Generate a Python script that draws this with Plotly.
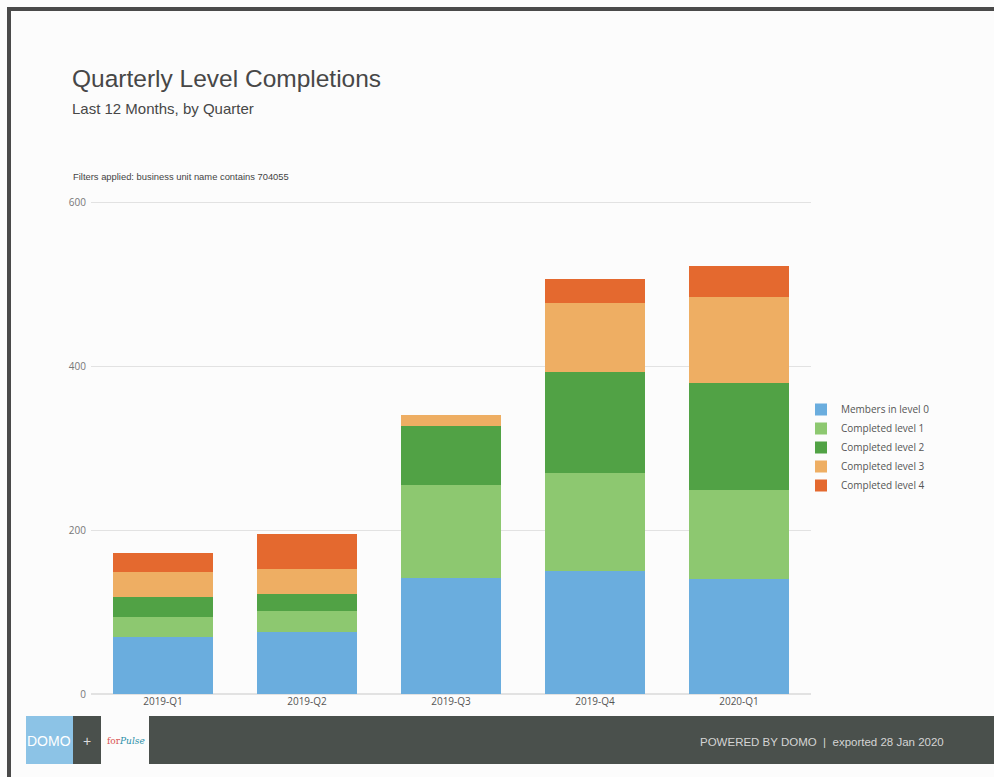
import plotly.graph_objects as go

quarters = ["2019-Q1", "2019-Q2", "2019-Q3", "2019-Q4", "2020-Q1"]
series_names = ["Members in level 0", "Completed level 1", "Completed level 2",
                "Completed level 3", "Completed level 4"]
level0 = [69, 76, 142, 150, 140]
level1 = [25, 25, 113, 120, 109]
level2 = [24, 21, 72, 123, 131]
level3 = [31, 30, 13, 84, 104]
level4 = [23, 43, 0, 29, 38]
y_ticks = [0, 200, 400, 600]

colors = ["#6AADDE", "#8DC870", "#51A245", "#EEAE63", "#E4692F"]
series = [level0, level1, level2, level3, level4]

W, H = 994, 777
L, R, T, B = 91, 811, 201, 694


def px(x):
    return (x - L) / (R - L)


def py(y):
    return (B - y) / (B - T)


fig = go.Figure()
for name, vals, c in zip(series_names, series, colors):
    fig.add_trace(go.Bar(x=quarters, y=vals, name=name, marker=dict(color=c, line=dict(width=0))))

shapes = [
    # scan border
    dict(type="rect", xref="paper", yref="paper", x0=px(7), x1=px(994), y0=py(11), y1=py(7),
         fillcolor="#4a4a4a", line=dict(width=0), layer="above"),
    dict(type="rect", xref="paper", yref="paper", x0=px(7), x1=px(11), y0=py(777), y1=py(7),
         fillcolor="#4a4a4a", line=dict(width=0), layer="above"),
    # footer
    dict(type="rect", xref="paper", yref="paper", x0=px(149), x1=px(994), y0=py(764), y1=py(716),
         fillcolor="#4a504c", line=dict(width=0), layer="above"),
    dict(type="rect", xref="paper", yref="paper", x0=px(26), x1=px(73), y0=py(764), y1=py(716),
         fillcolor="#8CC3E6", line=dict(width=0), layer="above"),
    dict(type="rect", xref="paper", yref="paper", x0=px(73), x1=px(101), y0=py(764), y1=py(716),
         fillcolor="#4a504c", line=dict(width=0), layer="above"),
]

annotations = [
    dict(text="Quarterly Level Completions", x=px(70), y=py(79), xref="paper", yref="paper",
         xanchor="left", yanchor="middle", showarrow=False,
         font=dict(family="Liberation Sans, Arial", size=24.5, color="#474747")),
    dict(text="Last 12 Months, by Quarter", x=px(70), y=py(108), xref="paper", yref="paper",
         xanchor="left", yanchor="middle", showarrow=False,
         font=dict(family="Liberation Sans, Arial", size=15, color="#474747")),
    dict(text="Filters applied: business unit name contains 704055", x=px(71), y=py(176),
         xref="paper", yref="paper", xanchor="left", yanchor="middle", showarrow=False,
         font=dict(family="Liberation Sans, Arial", size=9.4, color="#444444")),
    dict(text="DOMO", x=px(49), y=py(741), xref="paper", yref="paper", xanchor="center",
         yanchor="middle", showarrow=False,
         font=dict(family="Liberation Sans, Arial", size=14, color="#ffffff")),
    dict(text="+", x=px(87), y=py(741), xref="paper", yref="paper", xanchor="center",
         yanchor="middle", showarrow=False,
         font=dict(family="Liberation Sans, Arial", size=14, color="#dddddd")),
    dict(text="<span style='color:#d9534f'>for</span><i>Pulse</i>", x=px(105), y=py(741),
         xref="paper", yref="paper", xanchor="left", yanchor="middle", showarrow=False,
         font=dict(family="DejaVu Serif", size=9, color="#2a8fa8")),
    dict(text="POWERED BY DOMO  |  exported 28 Jan 2020", x=px(946), y=py(742),
         xref="paper", yref="paper", xanchor="right", yanchor="middle", showarrow=False,
         font=dict(family="Liberation Sans, Arial", size=11.5, color="#d4d4d4")),
]

fig.update_layout(
    width=W, height=H,
    margin=dict(l=L, r=W - R, t=T, b=H - B, pad=0),
    paper_bgcolor="#fcfcfc", plot_bgcolor="#fcfcfc",
    barmode="stack", bargap=0.306,
    showlegend=True,
    legend=dict(x=px(801), y=py(395), xanchor="left", yanchor="top", traceorder="normal",
                font=dict(family="Open Sans", size=10, color="#555555"),
                bgcolor="rgba(0,0,0,0)", itemclick=False),
    xaxis=dict(showgrid=False, showline=False, zeroline=False, ticks="",
               tickfont=dict(family="Open Sans", size=10, color="#555555")),
    yaxis=dict(range=[0, 601.5], tickvals=y_ticks, showgrid=True, gridcolor="#e2e2e2",
               zeroline=True, zerolinecolor="#e2e2e2", showline=False, ticks="",
               ticklabelstandoff=4,
               tickfont=dict(family="Open Sans", size=10, color="#777777")),
    shapes=shapes, annotations=annotations,
)

fig.write_html("out.html")
